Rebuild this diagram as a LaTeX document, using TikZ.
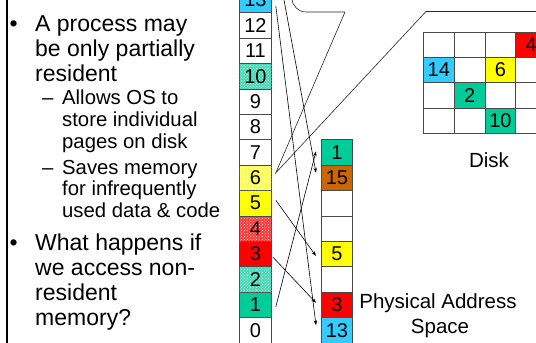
\documentclass[tikz,border=0pt]{standalone}
\usepackage{fontspec}
\setmainfont{Liberation Sans}
\usetikzlibrary{patterns,arrows.meta,calc}
\definecolor{cy}{HTML}{33CCFF}
\definecolor{gr}{HTML}{00CC99}
\definecolor{br}{HTML}{CC6600}
\definecolor{ye}{HTML}{FFFF00}
\definecolor{re}{HTML}{FF0000}
\definecolor{edge}{HTML}{4A4A4A}
\begin{document}
\begin{tikzpicture}[x=1pt,y=-1pt,
  cellbase/.style={draw=edge,line width=0.8pt,minimum height=25.4pt,inner sep=0pt,
    anchor=north west,font=\fontsize{20}{20}\selectfont},
  vcell/.style={cellbase,minimum width=32pt},
  pcell/.style={cellbase,minimum width=31pt},
  dcell/.style={cellbase,minimum width=30.8pt},
  plain/.style={},
  cfill/.style={fill=cy},
  gfill/.style={fill=gr},
  rfill/.style={fill=re},
  yfill/.style={fill=ye},
  bfill/.style={fill=br},
  gpat/.style={fill=gr!75!white,postaction={pattern=crosshatch dots,pattern color=white}},
  rpat/.style={fill=re!80!white,postaction={pattern=crosshatch dots,pattern color=white}},
  ypat/.style={fill=ye!70!white,postaction={pattern=crosshatch dots,pattern color=white}},
  mainline/.style={anchor=base west,inner sep=0pt,font=\fontsize{23}{25}\selectfont},
  subline/.style={anchor=base west,inner sep=0pt,font=\fontsize{20.3}{22}\selectfont},
  lab/.style={anchor=base,inner sep=0pt,font=\fontsize{20.5}{25}\selectfont},
  arr/.style={-{Stealth[length=5pt,width=3.5pt]},line width=0.6pt},
  thin/.style={line width=0.6pt,draw=black!85}]
\useasboundingbox (0,0) rectangle (536,343);
\clip (0,0) rectangle (536,343);
% left frame bar
\draw[line width=2pt] (7,-2) -- (7,345);
% bullet text
\node[mainline] (b1) at (9.5,31.7) {\textbullet};
\node[mainline] (t1) at (35,31.7) {A process may};
\node[mainline] (t2) at (35,56.7) {be only partially};
\node[mainline] (t3) at (35,81.7) {resident};
\node[subline] (d1) at (42,104) {–};
\node[subline] (s1) at (62,104) {Allows OS to};
\node[subline] (s2) at (62,126.5) {store individual};
\node[subline] (s3) at (62,148) {pages on disk};
\node[subline] (d2) at (42,174) {–};
\node[subline] (s4) at (62,174) {Saves memory};
\node[subline] (s5) at (62,195.5) {for infrequently};
\node[subline] (s6) at (62,217) {used data \& code};
\node[mainline] (b2) at (9.5,250) {\textbullet};
\node[mainline] (t4) at (35,250) {What happens if};
\node[mainline] (t5) at (35,275.5) {we access non-};
\node[mainline] (t6) at (35,300) {resident};
\node[mainline] (t7) at (35,325) {memory?};
% virtual address space
\foreach \i/\st in {0/plain,1/gfill,2/gpat,3/rfill,4/rpat,5/yfill,6/ypat,7/plain,8/plain,9/plain,10/gpat,11/plain,12/plain,13/cfill}
  \node[vcell,\st] (v\i) at (239,{342.5-25.4*(\i+1)}) {\i};
% physical address space
\foreach \i/\st/\t in {0/cfill/13,1/rfill/3,2/plain/,3/yfill/5,4/plain/,5/plain/,6/bfill/15,7/gfill/1}
  \node[pcell,\st] (p\i) at (321,{342.5-25.4*(\i+1)}) {\t};
% disk
\foreach \r in {0,...,3}
  \foreach \c in {0,...,4}
    \node[dcell] (d\r\c) at ({423+30.8*\c},{31.5+25.4*\r}) {};
\node[dcell,rfill] (k4) at ({423+30.8*3},31.5) {4};
\node[dcell,cfill] (k14) at (423,{31.5+25.4}) {14};
\node[dcell,yfill] (k6) at ({423+30.8*2},{31.5+25.4}) {6};
\node[dcell,gfill] (k2) at ({423+30.8},{31.5+25.4*2}) {2};
\node[dcell,gfill] (k10) at ({423+30.8*2},{31.5+25.4*3}) {10};
\node[lab] (disk) at (489,167) {Disk};
\node[lab] (pas1) at (438,308) {Physical Address};
\node[lab] (pas2) at (440,333) {Space};
% callout pointing at page 6
\coordinate (tip) at ([xshift=4pt,yshift=5pt]v6.east);
\coordinate (cl) at (292,-30);
\coordinate (cw1) at (345,12);
\coordinate (cw2) at (426,11.5);
\coordinate (cr) at (545,11.5);
\draw[thin,rounded corners=14pt] (cl) |- (cw1);
\draw[thin] (cw1) -- (tip) -- (cw2) -- (cr);
% mappings
\coordinate (v15) at (281.6,-13);
\draw[arr] (v15) -- ([xshift=-5pt,yshift=5pt]p6.west);
\draw[arr] ([xshift=4pt,yshift=-6pt]v13.east) -- ([xshift=-5pt,yshift=5pt]p0.west);
\draw[arr] ([xshift=4pt,yshift=3pt]v5.east) -- ([xshift=-5pt,yshift=-2pt]p3.west);
\draw[arr] ([xshift=1pt,yshift=-3pt]v3.east) -- ([xshift=-5pt,yshift=2pt]p1.west);
\draw[arr] ([xshift=4pt,yshift=-2pt]v1.east) -- ([xshift=-5pt,yshift=1pt]p7.west);
\end{tikzpicture}
\end{document}
